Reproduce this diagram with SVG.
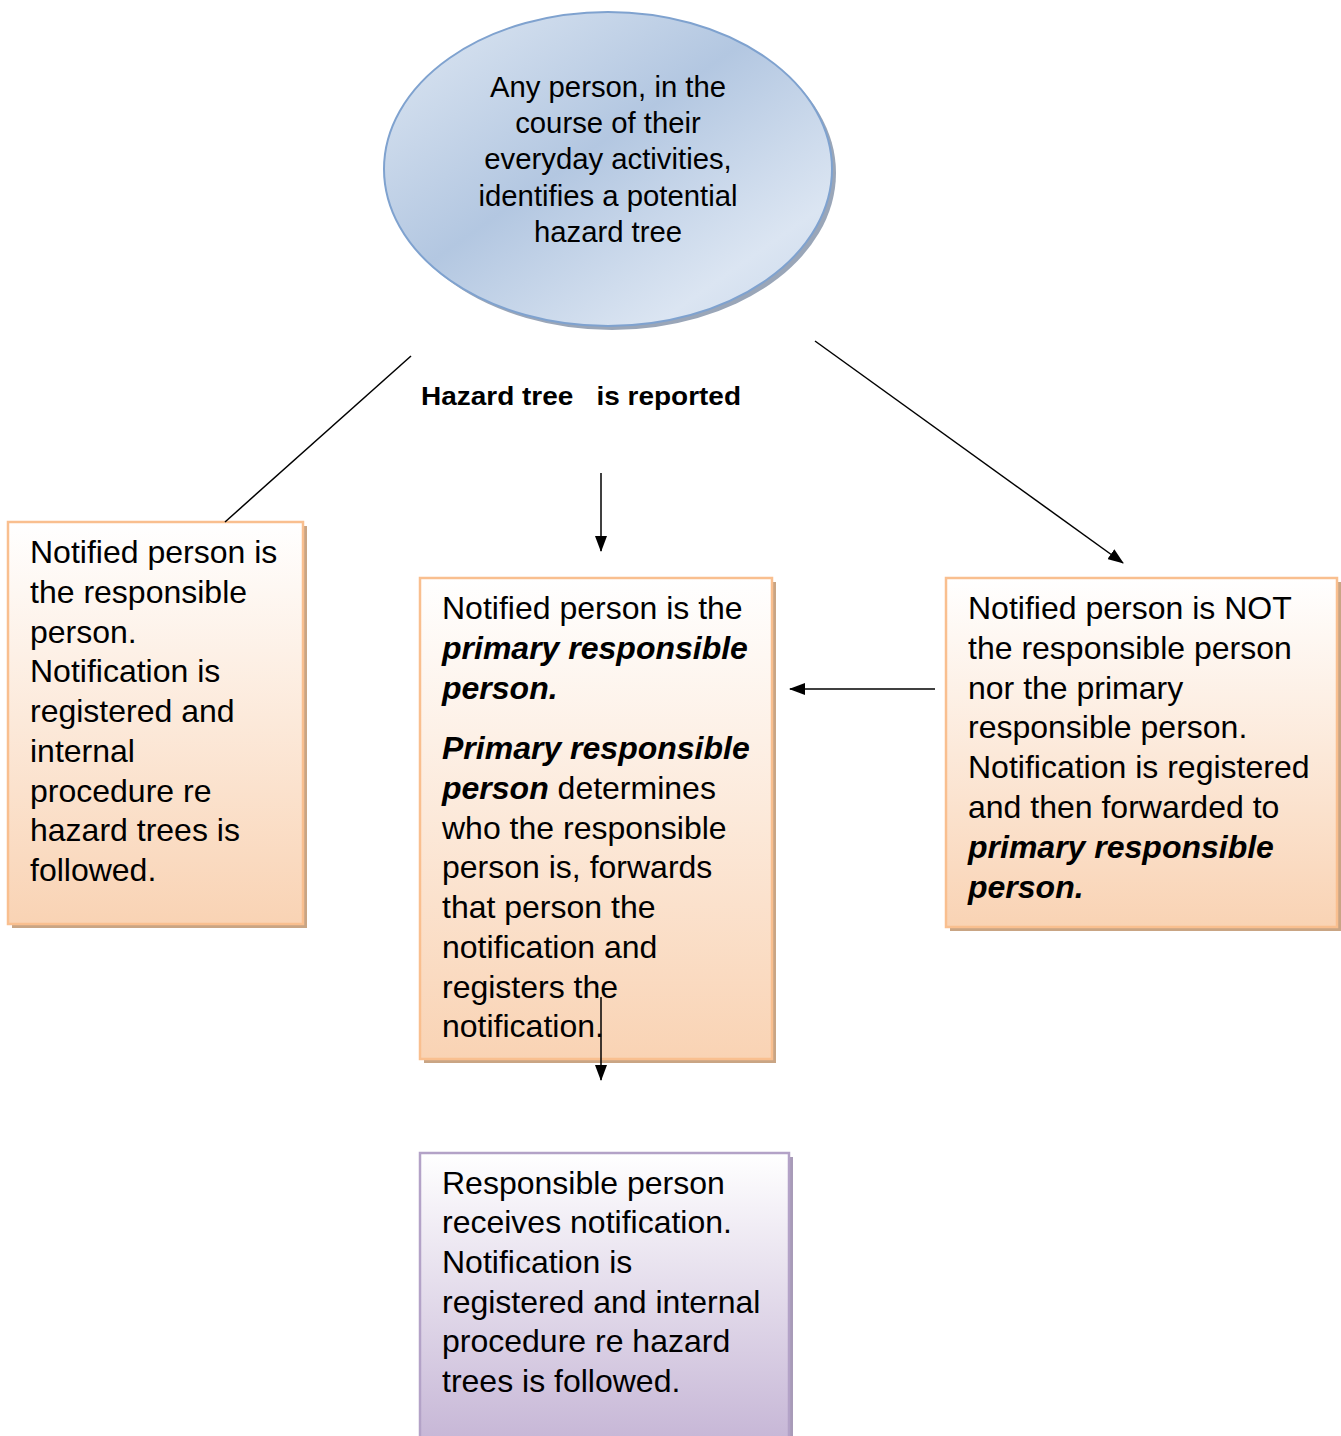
<svg xmlns="http://www.w3.org/2000/svg" width="1341" height="1436" viewBox="0 0 1341 1436">
<style>
.t{font-family:"Liberation Sans",Arial,sans-serif;font-size:32px;fill:#000}
.e{font-family:"Liberation Sans",Arial,sans-serif;font-size:29.3px;fill:#000}
.bi{font-weight:bold;font-style:italic}
.lab{font-family:"Liberation Sans",Arial,sans-serif;font-size:25px;font-weight:bold;fill:#000}
.box{stroke:#f9bf8f;stroke-width:2.5}
.pbox{stroke:#b3a2c7;stroke-width:2.5}
.conn{stroke:#000;stroke-width:1.5;fill:none}
</style>
<defs>
<linearGradient id="og" x1="0" y1="0" x2="0" y2="1">
<stop offset="0" stop-color="#ffffff"/>
<stop offset="1" stop-color="#f9d3b4"/>
</linearGradient>
<linearGradient id="pg" x1="0" y1="0" x2="0" y2="1">
<stop offset="0" stop-color="#ffffff"/>
<stop offset="1" stop-color="#c6b6d6"/>
</linearGradient>
<linearGradient id="bg" x1="0" y1="0" x2="1" y2="1">
<stop offset="0" stop-color="#dfe8f3"/>
<stop offset="0.45" stop-color="#b3c7e1"/>
<stop offset="0.8" stop-color="#dbe5f2"/>
<stop offset="1" stop-color="#c9d7ea"/>
</linearGradient>
<marker id="ah" markerWidth="16" markerHeight="12" refX="15" refY="6" orient="auto" markerUnits="userSpaceOnUse">
<path d="M0,0 L16,6 L0,12 Z" fill="#000"/>
</marker>
</defs>

<g id="start">
<ellipse cx="612" cy="173" rx="224" ry="157" fill="#9aa6b8"/>
<ellipse cx="608" cy="169" rx="224" ry="157" fill="url(#bg)" stroke="#7fa2cf" stroke-width="2"/>
<text class="e" text-anchor="middle"><tspan x="608" y="97">Any person, in the</tspan><tspan x="608" y="133">course of their</tspan><tspan x="608" y="169">everyday activities,</tspan><tspan x="608" y="206">identifies a potential</tspan><tspan x="608" y="242">hazard tree</tspan></text>
</g>

<g id="left">
<rect x="12" y="526" width="295" height="402" fill="#c9a584"/>
<rect x="8" y="522" width="295" height="402" fill="url(#og)" class="box"/>
<text class="t"><tspan x="30" y="563">Notified person is</tspan><tspan x="30" y="603">the responsible</tspan><tspan x="30" y="643">person.</tspan><tspan x="30" y="682">Notification is</tspan><tspan x="30" y="722">registered and</tspan><tspan x="30" y="762">internal</tspan><tspan x="30" y="802">procedure re</tspan><tspan x="30" y="841">hazard trees is</tspan><tspan x="30" y="881">followed.</tspan></text>
</g>

<g id="middle">
<rect x="424" y="582" width="352" height="481" fill="#c9a584"/>
<rect x="420" y="578" width="352" height="481" fill="url(#og)" class="box"/>
<text class="t"><tspan x="442" y="619">Notified person is the</tspan><tspan x="442" y="659" class="bi">primary responsible</tspan><tspan x="442" y="699" class="bi">person.</tspan><tspan x="442" y="759" class="bi">Primary responsible</tspan><tspan x="442" y="799"><tspan class="bi">person</tspan> determines</tspan><tspan x="442" y="839">who the responsible</tspan><tspan x="442" y="878">person is, forwards</tspan><tspan x="442" y="918">that person the</tspan><tspan x="442" y="958">notification and</tspan><tspan x="442" y="998">registers the</tspan><tspan x="442" y="1037">notification.</tspan></text>
</g>

<g id="right">
<rect x="950" y="582" width="391" height="349" fill="#c9a584"/>
<rect x="946" y="578" width="391" height="349" fill="url(#og)" class="box"/>
<text class="t"><tspan x="968" y="619">Notified person is NOT</tspan><tspan x="968" y="659">the responsible person</tspan><tspan x="968" y="699">nor the primary</tspan><tspan x="968" y="738">responsible person.</tspan><tspan x="968" y="778">Notification is registered</tspan><tspan x="968" y="818">and then forwarded to</tspan><tspan x="968" y="858" class="bi">primary responsible</tspan><tspan x="968" y="898" class="bi">person.</tspan></text>
</g>

<g id="bottom">
<rect x="424" y="1157" width="369" height="290" fill="#a89bb8"/>
<rect x="420" y="1153" width="369" height="290" fill="url(#pg)" class="pbox"/>
<text class="t"><tspan x="442" y="1194">Responsible person</tspan><tspan x="442" y="1233">receives notification.</tspan><tspan x="442" y="1273">Notification is</tspan><tspan x="442" y="1313">registered and internal</tspan><tspan x="442" y="1352">procedure re hazard</tspan><tspan x="442" y="1392">trees is followed.</tspan></text>
</g>

<g id="connectors">
<line class="conn" x1="411" y1="356" x2="225" y2="522"/>
<line class="conn" x1="601" y1="473" x2="601" y2="551" marker-end="url(#ah)"/>
<line class="conn" x1="815" y1="341" x2="1123" y2="563" marker-end="url(#ah)"/>
<line class="conn" x1="935" y1="689" x2="790" y2="689" marker-end="url(#ah)"/>
<line class="conn" x1="601" y1="997" x2="601" y2="1080" marker-end="url(#ah)"/>
<text class="lab" x="421" y="405" textLength="320" lengthAdjust="spacingAndGlyphs" xml:space="preserve">Hazard tree   is reported</text>
</g>
</svg>
